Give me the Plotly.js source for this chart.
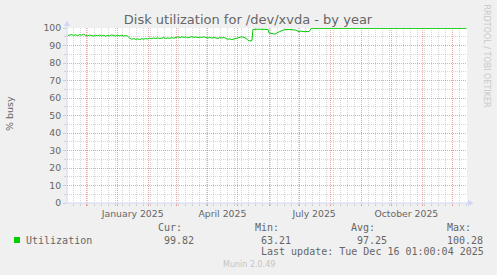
<!DOCTYPE html>
<html><head><meta charset="utf-8">
<script src="https://cdn.plot.ly/plotly-3.0.1.min.js"></script>
<style>html,body{margin:0;padding:0;background:#f0f0f0;}#chart{width:497px;height:275px;}</style>
</head><body><div id="chart"></div>
<script>
// ---- data ----
const dates = [
 '2024-11-12','2024-11-14','2024-11-16','2024-11-18','2024-11-20','2024-11-22','2024-11-24','2024-11-26','2024-11-28','2024-11-30',
 '2024-12-02','2024-12-04','2024-12-06','2024-12-08','2024-12-10','2024-12-12','2024-12-14','2024-12-16','2024-12-18','2024-12-20',
 '2024-12-22','2024-12-24','2024-12-26','2024-12-28','2024-12-30','2025-01-01','2025-01-03','2025-01-05','2025-01-07','2025-01-09',
 '2025-01-11','2025-01-13','2025-01-15','2025-01-17','2025-01-19','2025-01-21','2025-01-23','2025-01-25','2025-01-27','2025-01-29',
 '2025-01-31','2025-02-02','2025-02-04','2025-02-06','2025-02-08','2025-02-10','2025-02-12','2025-02-14','2025-02-16','2025-02-18',
 '2025-02-20','2025-02-22','2025-02-24','2025-02-26','2025-02-28','2025-03-02','2025-03-04','2025-03-06','2025-03-08','2025-03-10',
 '2025-03-12','2025-03-14','2025-03-16','2025-03-18','2025-03-20','2025-03-22','2025-03-24','2025-03-26','2025-03-28','2025-03-30',
 '2025-04-01','2025-04-03','2025-04-05','2025-04-07','2025-04-09','2025-04-11','2025-04-13','2025-04-15','2025-04-17','2025-04-19',
 '2025-04-21','2025-04-23','2025-04-25','2025-04-27','2025-04-29','2025-05-01','2025-05-03','2025-05-05','2025-05-07','2025-05-09',
 '2025-05-11','2025-05-13','2025-05-15','2025-05-16','2025-05-20','2025-05-25','2025-05-31',
 '2025-06-01','2025-06-04','2025-06-07','2025-06-10','2025-06-12','2025-06-14','2025-06-16','2025-06-20','2025-06-25','2025-06-28',
 '2025-06-30','2025-07-03','2025-07-06','2025-07-09','2025-07-11','2025-07-13','2025-07-20','2025-08-15','2025-09-15','2025-10-15',
 '2025-11-15','2025-12-15'
];
const util = [
 95.6,95.9,96.3,95.8,96.1,95.7,96.2,95.9,96.4,95.8,
 95.5,96.0,95.7,95.4,95.9,95.6,96.0,95.5,95.8,95.3,
 95.7,95.5,96.1,95.6,95.4,95.8,95.5,95.9,95.4,95.7,
 95.3,94.2,93.6,93.9,93.5,93.8,93.4,93.9,93.6,94.0,
 93.7,94.2,93.9,94.3,94.0,94.4,93.9,94.2,94.5,94.0,
 94.3,94.1,94.5,94.2,94.7,94.9,94.5,95.0,94.6,94.9,
 94.4,94.8,95.1,94.6,94.9,94.5,94.8,94.6,95.0,94.5,
 94.3,94.7,94.2,94.6,94.4,94.0,94.5,94.3,94.6,93.8,
 93.5,93.8,93.4,93.7,93.9,94.4,94.7,95.0,94.5,94.2,
 93.0,92.6,92.8,99.2,99.3,99.2,99.2,
 97.2,96.7,96.5,97.5,97.9,98.2,99.0,99.2,99.2,98.8,
 98.0,98.2,97.9,98.1,98.0,99.8,99.8,99.8,99.8,99.8,
 99.8,99.8
];
const seriesName = 'Utilization';
const statLabels = ['Cur:', 'Min:', 'Avg:', 'Max:'];
const statValues = ['99.82', '63.21', '97.25', '100.28'];
const monthLabels = ['January 2025', 'April 2025', 'July 2025', 'October 2025'];
const monthLabelDates = ['2025-01-16', '2025-04-15 12:00', '2025-07-16', '2025-10-16'];
const xRange = ['2024-11-11 12:00', '2025-12-15 12:00'];
const titleText = 'Disk utilization for /dev/xvda - by year';
const yTitle = '% busy';
const lastUpdate = 'Last update: Tue Dec 16 01:00:04 2025';
const footer = 'Munin 2.0.49';
const watermark = 'RRDTOOL / TOBI OETIKER';

// ---- layout helpers ----
const W = 497, H = 275, L = 67, R = 467, T = 28, B = 203;
const px = x => (x - L) / (R - L);
const py = y => (B - y) / (B - T);
const FONT = 'DejaVu Sans, sans-serif';
const MONO = 'DejaVu Sans Mono, monospace';
const TXT = '#666666';
const AXIS = '#CFD6F8';
const MGRID = 'rgba(225,90,90,0.55)';
const GRID = 'rgba(150,150,150,0.4)';

const monoAnn = (text, x, y) => ({text, x: px(x), y: py(y), xref: 'paper', yref: 'paper',
  xanchor: 'left', yanchor: 'middle', showarrow: false, borderpad: 0, borderwidth: 0,
  font: {family: MONO, size: 10, color: TXT}});

const statX = [158, 255, 351, 447];
const valX = [164, 261, 357, 447];
const annotations = [];
annotations.push(monoAnn(seriesName, 26, 240));
statLabels.forEach((s, i) => annotations.push(monoAnn(s, statX[i], 227.5)));
statValues.forEach((s, i) => annotations.push(monoAnn(s, valX[i], 240)));
annotations.push(monoAnn(lastUpdate, 261, 251.5));
annotations.push({text: footer, x: px(248.5), y: py(264), xref: 'paper', yref: 'paper',
  xanchor: 'center', yanchor: 'middle', showarrow: false, font: {family: FONT, size: 8, color: '#c4c4c4'}});
annotations.push({text: yTitle, x: px(9), y: py(114), xref: 'paper', yref: 'paper', textangle: -90,
  xanchor: 'center', yanchor: 'middle', showarrow: false, font: {family: FONT, size: 9.5, color: TXT}});
annotations.push({text: watermark, x: px(486.5), y: py(56), xref: 'paper', yref: 'paper', textangle: 90,
  xanchor: 'center', yanchor: 'middle', showarrow: false, font: {family: FONT, size: 8, color: '#c8c8c8'}});

const tri = pts => 'M' + pts.map(p => px(p[0]) + ',' + py(p[1])).join(' L') + ' Z';
const shapes = [
  {type: 'line', xref: 'paper', yref: 'paper', x0: px(67), x1: px(67), y0: py(203.5), y1: py(23), line: {color: AXIS, width: 1}, layer: 'above'},
  {type: 'line', xref: 'paper', yref: 'paper', x0: px(66.5), x1: px(469), y0: py(203), y1: py(203), line: {color: AXIS, width: 1}, layer: 'above'},
  {type: 'path', xref: 'paper', yref: 'paper', path: tri([[64, 26], [70, 26], [67, 20.5]]), fillcolor: AXIS, line: {width: 0}, layer: 'above'},
  {type: 'path', xref: 'paper', yref: 'paper', path: tri([[468, 200], [468, 206], [473.5, 203]]), fillcolor: AXIS, line: {width: 0}, layer: 'above'},
  {type: 'rect', xref: 'paper', yref: 'paper', x0: px(14), x1: px(20), y0: py(243), y1: py(237), fillcolor: '#00CC00', line: {width: 0}}
];

const trace = {x: dates, y: util, type: 'scatter', mode: 'lines', name: seriesName,
  line: {color: '#00CC00', width: 1}, hoverinfo: 'skip'};
// carrier for the month-label axis (draws nothing)
const labelCarrier = {x: monthLabelDates, y: monthLabels.map(() => null), xaxis: 'x2', yaxis: 'y',
  type: 'scatter', mode: 'lines', showlegend: false, hoverinfo: 'skip'};

const layout = {
  width: W, height: H, autosize: false,
  margin: {l: L, r: W - R, t: T, b: H - B, pad: 0},
  paper_bgcolor: '#F0F0F0', plot_bgcolor: '#FFFFFF',
  showlegend: false,
  title: {text: titleText, x: 248 / W, xanchor: 'center', xref: 'container', y: 1 - 19 / H, yanchor: 'middle', yref: 'container',
    font: {family: FONT, size: 13, color: TXT}},
  xaxis: {type: 'date', range: xRange, showline: false, zeroline: false,
    dtick: 'M1', tick0: '2024-12-01', showticklabels: false,
    ticks: 'outside', ticklen: 2, tickcolor: MGRID,
    showgrid: true, gridcolor: MGRID, griddash: '1px,1px', gridwidth: 1,
    minor: {dtick: 7 * 86400000, tick0: '2024-11-11', showgrid: true, gridcolor: GRID, griddash: '1px,1px', gridwidth: 1, ticks: 'outside', ticklen: 2, tickcolor: GRID}},
  xaxis2: {type: 'date', range: xRange, overlaying: 'x', anchor: 'y', side: 'bottom',
    tickmode: 'array', tickvals: monthLabelDates, ticktext: monthLabels,
    showgrid: false, zeroline: false, showline: false, ticks: '', ticklabelstandoff: 4,
    tickfont: {family: FONT, size: 9.3, color: TXT}},
  yaxis: {range: [0, 100], dtick: 10, tick0: 0, showline: false, zeroline: false,
    ticks: 'outside', ticklen: 3, tickcolor: GRID,
    tickfont: {family: FONT, size: 9.3, color: TXT},
    showgrid: true, gridcolor: MGRID, griddash: '1px,1px', gridwidth: 1,
    minor: {dtick: 5, showgrid: true, gridcolor: GRID, griddash: '1px,1px', gridwidth: 1, ticks: 'outside', ticklen: 2, tickcolor: GRID}},
  annotations, shapes
};

Plotly.newPlot('chart', [labelCarrier, trace], layout, {staticPlot: true, displayModeBar: false});
</script></body></html>
